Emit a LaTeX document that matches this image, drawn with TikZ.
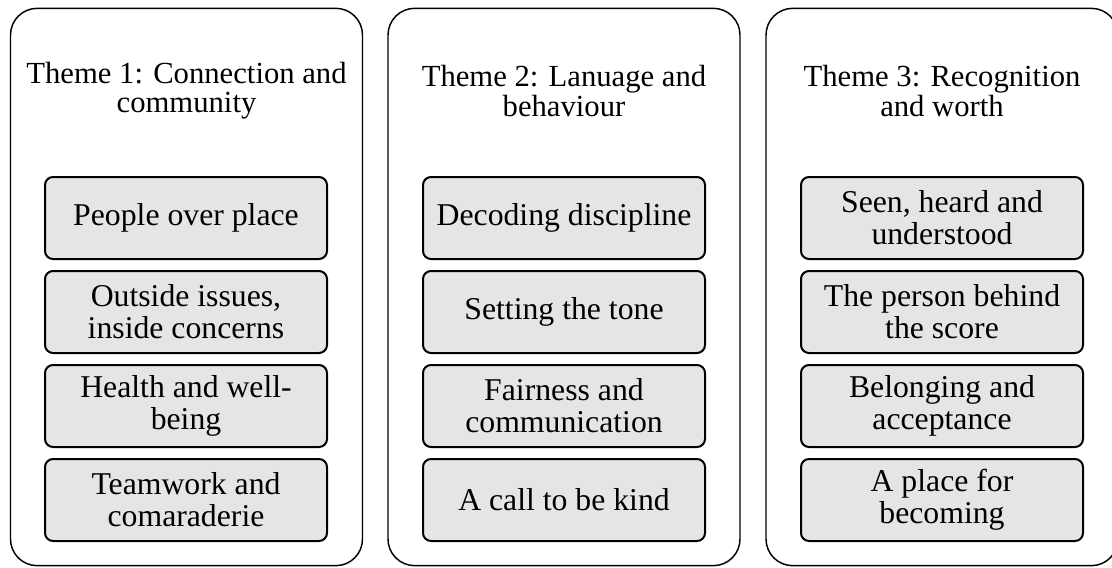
\documentclass[tikz,border=0pt]{standalone}
\usepackage{fontspec}
\setmainfont{Liberation Serif}
\begin{document}
\begin{tikzpicture}[x=0.75pt,y=-0.75pt,
  outerbox/.style={draw=black,line width=1.1pt,rounded corners=20pt,minimum width=264pt,minimum height=418pt,inner sep=0pt},
  titletext/.style={align=center,font=\fontsize{23pt}{22pt}\selectfont,inner sep=0pt},
  itembox/.style={draw=black,line width=1.5pt,fill=gray!20,rounded corners=6pt,minimum width=211.5pt,minimum height=61.5pt,align=center,font=\fontsize{23.8pt}{24pt}\selectfont,inner sep=0pt}]
\useasboundingbox (0,0) rectangle (1112,567);
% outer columns
\node[outerbox] (c1) at (186.5,287) {};
\node[outerbox] (c2) at (564,287) {};
\node[outerbox] (c3) at (942,287) {};
% titles
\node[titletext] (t1) at (186.5,91) {Theme 1: Connection and\\community};
\node[titletext] (t2) at (564,91) {Theme 2: Lanuage and\\behaviour};
\node[titletext] (t3) at (942,91) {Theme 3: Recognition\\and worth};
% column 1
\node[itembox] (a1) at (186,218) {People over place};
\node[itembox] (a2) at (186,312) {Outside issues,\\inside concerns};
\node[itembox] (a3) at (186,406) {Health and well-\\being};
\node[itembox] (a4) at (186,500) {Teamwork and\\comaraderie};
% column 2
\node[itembox] (b1) at (564,218) {Decoding discipline};
\node[itembox] (b2) at (564,312) {Setting the tone};
\node[itembox] (b3) at (564,406) {Fairness and\\communication};
\node[itembox] (b4) at (564,500) {A call to be kind};
% column 3
\node[itembox] (d1) at (942,218) {Seen, heard and\\understood};
\node[itembox] (d2) at (942,312) {The person behind\\the score};
\node[itembox] (d3) at (942,406) {Belonging and\\acceptance};
\node[itembox] (d4) at (942,500) {A place for\\becoming};
\end{tikzpicture}
\end{document}
